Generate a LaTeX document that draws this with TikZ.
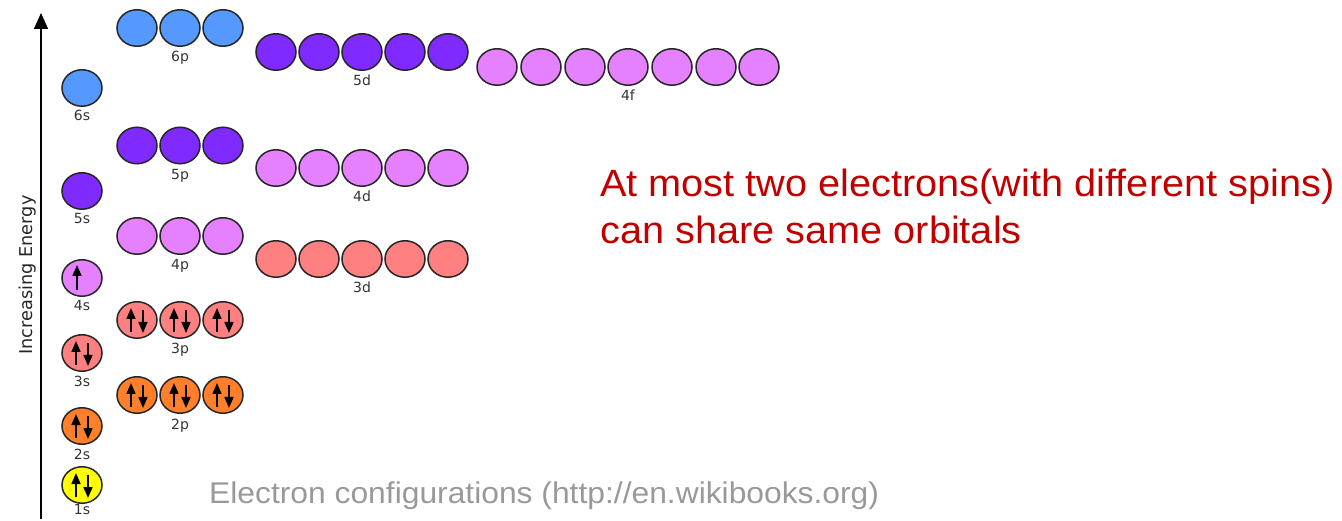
\documentclass[tikz,border=0pt]{standalone}
\usepackage{fontspec}
\setmainfont{Liberation Sans}
\newfontfamily\labfont{DejaVu Sans}
\usetikzlibrary{shapes.geometric,arrows.meta}
\definecolor{cBlue}{HTML}{5599FF}
\definecolor{cPurple}{HTML}{7F2AFF}
\definecolor{cViolet}{HTML}{E580FF}
\definecolor{cSalmon}{HTML}{FF8080}
\definecolor{cOrange}{HTML}{FF7F2A}
\definecolor{cYellow}{HTML}{FFFF00}
\definecolor{cRed}{HTML}{C00000}
\definecolor{cGray}{HTML}{999999}
\definecolor{cLab}{HTML}{333333}
\tikzset{
  orb/.style={ellipse, draw=black!85, line width=1.5pt, minimum width=40pt, minimum height=36.5pt, inner sep=0pt},
  lab/.style={font=\labfont\fontsize{14}{14}\selectfont, text=cLab, anchor=base, inner sep=0pt},
  spin/.style={line width=1.6pt, -{Triangle[width=9pt,length=11pt]}},
  axis/.style={line width=1.5pt, -{Triangle[width=14pt,length=16pt]}},
}
\begin{document}
\begin{tikzpicture}[x=1pt,y=1pt]
\useasboundingbox (0,0) rectangle (1342,-521);
% energy axis
\coordinate (axb) at (41,-519);
\coordinate (axt) at (41,-13);
\draw[axis] (axb) -- (axt);
\node[font=\labfont\fontsize{17.7}{17.7}\selectfont, text=black!85, rotate=90, anchor=base, inner sep=0pt] (energy) at (32,-275) {Increasing Energy};
% s orbitals
\foreach \n/\y/\c in {2/426/cOrange,3/353/cSalmon,4/278/cViolet,5/191/cPurple,6/88/cBlue}{
  \node[orb,fill=\c] (s\n) at (82,-\y) {};
  \node[lab] (s\n lab) at (82,-\y-33) {\n s};
}
\node[orb,fill=cYellow] (s1) at (82,-485) {};
\node[lab] (s1lab) at (82,-514) {1s};
% p orbitals
\foreach \n/\y/\c in {2/395/cOrange,3/320/cSalmon,4/236/cViolet,5/145.5/cPurple,6/28/cBlue}{
  \foreach \i/\x in {1/137,2/180,3/223}{
    \node[orb,fill=\c] (p\n\i) at (\x,-\y) {};
  }
  \node[lab] (p\n lab) at (180,-\y-34) {\n p};
}
% d orbitals
\foreach \n/\y/\c in {3/259/cSalmon,4/168/cViolet,5/52/cPurple}{
  \foreach \i/\x in {1/276,2/319,3/362,4/405,5/448}{
    \node[orb,fill=\c] (d\n\i) at (\x,-\y) {};
  }
  \node[lab] (d\n lab) at (362,-\y-34) {\n d};
}
% f orbitals
\foreach \i/\x in {1/497,2/541,3/585,4/628,5/672,6/716,7/759}{
  \node[orb,fill=cViolet] (f4\i) at (\x,-67) {};
}
\node[lab] (f4lab) at (628,-101) {4f};
% paired spins
\foreach \o in {s1,s2,s3,p21,p22,p23,p31,p32,p33}{
  \draw[spin] ([shift={(-6,-12)}]\o.center) -- ([shift={(-6,12)}]\o.center);
  \draw[spin] ([shift={(6,10)}]\o.center) -- ([shift={(6,-13)}]\o.center);
}
% single spin in 4s
\draw[spin] ([shift={(-5,-12)}]s4.center) -- ([shift={(-5,13)}]s4.center);
% texts
\node[font=\fontsize{38}{38}\selectfont, text=cRed, anchor=base west, inner sep=0pt, xscale=1.045] (note1) at (600,-197) {At most two electrons(with different spins)};
\node[font=\fontsize{38}{38}\selectfont, text=cRed, anchor=base west, inner sep=0pt, xscale=1.045] (note2) at (600,-244) {can share same orbitals};
\node[font=\fontsize{30}{30}\selectfont, text=cGray, anchor=base west, inner sep=0pt, xscale=1.06] (src) at (209,-503) {Electron configurations (http://en.wikibooks.org)};
\end{tikzpicture}
\end{document}
